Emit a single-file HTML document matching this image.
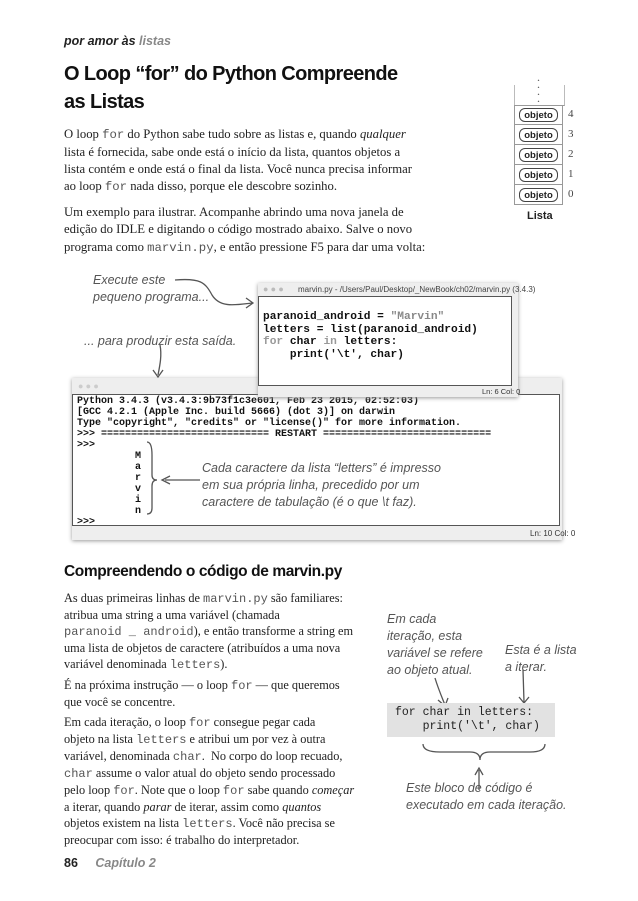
<!DOCTYPE html>
<html><head><meta charset="utf-8"><style>
body{margin:0;background:#fff;width:638px;height:901px;position:relative;overflow:hidden;font-family:"Liberation Serif",serif;color:#222}
.a{position:absolute;white-space:nowrap}
.p{font-size:12.9px;line-height:17.1px;white-space:nowrap}
.p p{margin:0 0 8px 0}
code,.m{font-family:"Liberation Mono",monospace;color:#555;font-size:12.3px}
.hw{font-family:"Liberation Sans",sans-serif;font-style:italic;color:#555;font-size:12.5px;line-height:17px}
.cb{font-family:"Liberation Mono",monospace;font-weight:bold;color:#111}
.row{position:absolute;left:514px;width:49px;height:20px;border:1px solid #999;border-top:none;box-sizing:border-box}
.ob{position:absolute;left:4px;top:3px;width:39px;height:14px;border:1px solid #444;border-radius:6px;font:bold 9.5px "Liberation Sans",sans-serif;text-align:center;line-height:14px;box-sizing:border-box}
.n{position:absolute;left:568px;font-size:11px;color:#444}
.q code{font-size:12px}
</style></head><body>
<div class="a" style="left:64px;top:34px;font:italic bold 12.5px 'Liberation Sans',sans-serif;color:#222">por amor às <span style="color:#888">listas</span></div>
<div class="a" style="left:64px;top:60px;font:bold 20px/28px 'Liberation Sans',sans-serif;color:#111;letter-spacing:-0.6px">O Loop “for” do Python Compreende<br>as Listas</div>
<div class="a p" style="left:64px;top:126px;font-size:12.7px"><p>O loop <code>for</code> do Python sabe tudo sobre as listas e, quando <i>qualquer</i><br>lista é fornecida, sabe onde está o início da lista, quantos objetos a<br>lista contém e onde está o final da lista. Você nunca precisa informar<br>ao loop <code>for</code> nada disso, porque ele descobre sozinho.</p><p>Um exemplo para ilustrar. Acompanhe abrindo uma nova janela de<br>edição do IDLE e digitando o código mostrado abaixo. Salve o novo<br>programa como <code>marvin.py</code>, e então pressione F5 para dar uma volta:</p></div>

<div class="a" style="left:537px;top:74px;font-size:12px;line-height:7px;color:#555">.<br>.<br>.<br>.</div>
<div class="a" style="left:514px;top:85px;width:49px;height:20px;border-left:1px solid #bbb;border-right:1px solid #bbb;border-bottom:1px solid #999"></div>
<div class="row" style="top:105px"><div class="ob">objeto</div></div>
<div class="row" style="top:125px"><div class="ob">objeto</div></div>
<div class="row" style="top:145px"><div class="ob">objeto</div></div>
<div class="row" style="top:165px"><div class="ob">objeto</div></div>
<div class="row" style="top:185px"><div class="ob">objeto</div></div>
<div class="n" style="top:108px">4</div><div class="n" style="top:128px">3</div><div class="n" style="top:148px">2</div><div class="n" style="top:168px">1</div><div class="n" style="top:188px">0</div>
<div class="a" style="left:527px;top:210px;font:bold 11px 'Liberation Sans',sans-serif">Lista</div>

<div class="a hw" style="left:93px;top:272px">Execute este<br>pequeno programa...</div>
<div class="a hw" style="left:84px;top:333px">... para produzir esta saída.</div>

<div class="a" style="left:72px;top:378px;width:490px;height:162px;background:#eee;box-shadow:0 1px 4px #999">
 <div class="a" style="left:6px;top:3px;color:#ccc;font-size:9px">● ● ●</div>
 <div class="a cb" style="left:0;top:16px;width:488px;height:132px;background:#fff;border:1px solid #555;font-size:10px;line-height:11px;padding:1px 4px;box-sizing:border-box">Python 3.4.3 (v3.4.3:9b73f1c3e601, Feb 23 2015, 02:52:03)<br>[GCC 4.2.1 (Apple Inc. build 5666) (dot 3)] on darwin<br>Type "copyright", "credits" or "license()" for more information.<br>&gt;&gt;&gt; ============================ RESTART ============================<br>&gt;&gt;&gt;<br>
 <div style="margin-left:58px;line-height:11px">M<br>a<br>r<br>v<br>i<br>n</div>&gt;&gt;&gt;</div>
 <div class="a" style="left:458px;top:151px;font:8px 'Liberation Sans',sans-serif;color:#333">Ln: 10 Col: 0</div>
</div>
<div class="a" style="left:258px;top:283px;width:260px;height:114px;background:#eee;box-shadow:0 1px 4px #999">
 <div class="a" style="left:5px;top:1px;color:#bbb;font-size:9px">● ● ●</div>
 <div class="a" style="left:40px;top:2px;font:8px 'Liberation Sans',sans-serif;color:#444">marvin.py - /Users/Paul/Desktop/_NewBook/ch02/marvin.py (3.4.3)</div>
 <div class="a cb" style="left:0;top:13px;width:254px;height:90px;background:#fff;border:1px solid #555;font-size:11.2px;line-height:12.5px;padding:14px 4px;box-sizing:border-box">paranoid_android = <span style="color:#888">"Marvin"</span><br>letters = list(paranoid_android)<br><span style="color:#999">for</span> char <span style="color:#999">in</span> letters:<br>&nbsp;&nbsp;&nbsp;&nbsp;print('\t', char)</div>
 <div class="a" style="left:224px;top:104px;font:7.5px 'Liberation Sans',sans-serif;color:#333">Ln: 6 Col: 0</div>
</div>

<svg class="a" style="left:0;top:0" width="638" height="901">
<g fill="none" stroke="#555" stroke-width="1.3">
<path d="M175 280 C200 278 205 282 212 295 C220 308 235 305 252 303"/><path d="M246 298 L253 303 L246 308"/>
<path d="M160 345 C162 355 160 365 158 375"/><path d="M153 370 L158 377 L163 370"/>
<path d="M200 480 L165 480"/><path d="M170 476 L162 480 L170 484"/>
<path d="M147 442 Q152 442 152 455 L152 475 Q152 480 157 480 Q152 480 152 486 L152 508 Q152 514 147 514"/>
<path d="M435 678 C438 688 441 695 445 705"/><path d="M438 700 L445 706 L448 698"/>
<path d="M523 670 L524 702"/><path d="M519 697 L524 703 L529 697"/>
<path d="M423 744 Q423 752 440 752 L470 752 Q480 752 480 760 Q480 752 490 752 L530 752 Q545 752 545 744"/>
<path d="M479 790 L479 770"/><path d="M475 775 L479 768 L483 775"/>
</g></svg>
<div class="a hw" style="left:202px;top:460px;width:240px;white-space:normal">Cada caractere da lista “letters” é impresso em sua própria linha, precedido por um caractere de tabulação (é o que \t faz).</div>

<div class="a" style="left:64px;top:563px;font:bold 15.5px 'Liberation Sans',sans-serif;color:#111;letter-spacing:-0.4px">Compreendendo o código de marvin.py</div>
<div class="a p q" style="left:64px;top:590px;font-size:12.3px;line-height:16px"><p style="margin-bottom:4px">As duas primeiras linhas de <code>marvin.py</code> são familiares:<br>atribua uma string a uma variável (chamada<br><code>paranoid _ android</code>), e então transforme a string em<br>uma lista de objetos de caractere (atribuídos a uma nova<br>variável denominada <code>letters</code>).</p><p style="margin-bottom:4px">É na próxima instrução — o loop <code>for</code> — que queremos<br>que você se concentre.</p><p style="margin:0">Em cada iteração, o loop <code>for</code> consegue pegar cada<br>objeto na lista <code>letters</code> e atribui um por vez à outra<br>variável, denominada <code>char</code>.&nbsp; No corpo do loop recuado,<br><code>char</code> assume o valor atual do objeto sendo processado<br>pelo loop <code>for</code>. Note que o loop <code>for</code> sabe quando <i>começar</i><br>a iterar, quando <i>parar</i> de iterar, assim como <i>quantos</i><br>objetos existem na lista <code>letters</code>. Você não precisa se<br>preocupar com isso: é trabalho do interpretador.</p></div>

<div class="a hw" style="left:387px;top:611px">Em cada<br>iteração, esta<br>variável se refere<br>ao objeto atual.</div>
<div class="a hw" style="left:505px;top:642px">Esta é a lista<br>a iterar.</div>
<div class="a m" style="left:387px;top:703px;width:168px;height:34px;background:#e2e2e2;color:#222;font-size:11.5px;line-height:14px;padding:3px 8px;box-sizing:border-box">for char in letters:<br>&nbsp;&nbsp;&nbsp;&nbsp;print('\t', char)</div>
<div class="a hw" style="left:406px;top:780px">Este bloco de código é<br>executado em cada iteração.</div>

<div class="a" style="left:64px;top:856px;font:bold 12.5px 'Liberation Sans',sans-serif">86 <span style="margin-left:14px;font-style:italic;color:#888">Capítulo 2</span></div>
</body></html>
